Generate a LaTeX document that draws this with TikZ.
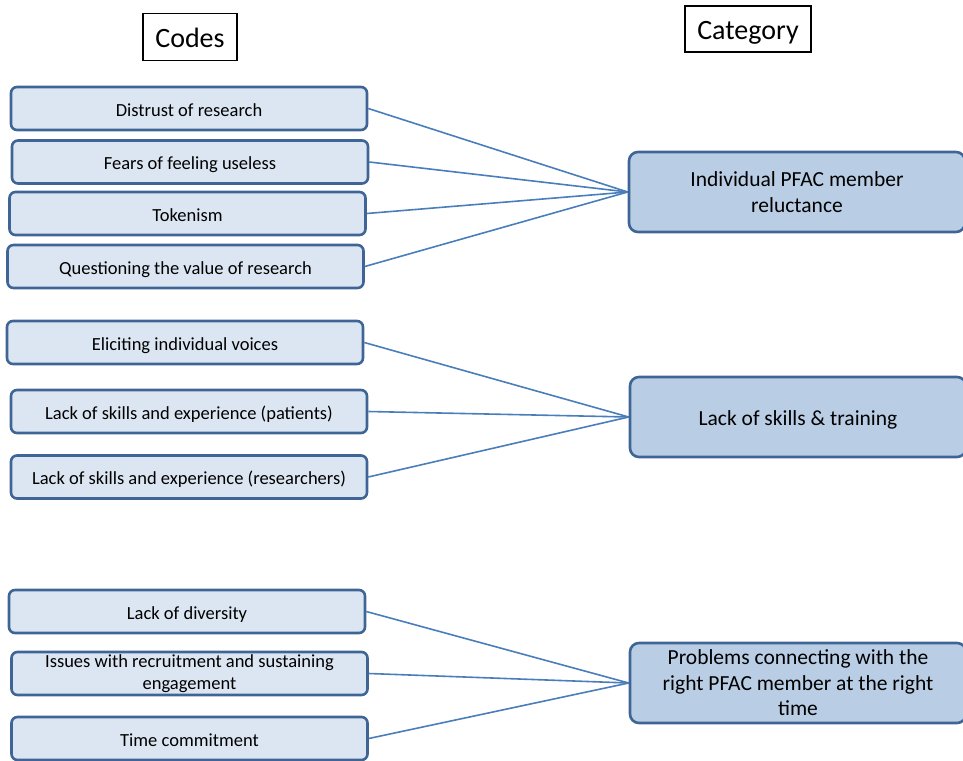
\documentclass[tikz,border=0pt]{standalone}
\usepackage{fontspec}
\setmainfont{Carlito}
\definecolor{codefill}{HTML}{DCE6F2}
\definecolor{catfill}{HTML}{B9CDE5}
\definecolor{boxline}{HTML}{3F6596}
\definecolor{conn}{HTML}{4A7EBB}
\tikzset{
  header/.style={draw=black, line width=1.8pt, fill=white, inner sep=0pt, text height=22pt, text depth=0pt, font=\fontsize{28}{32}\selectfont},
  codebox/.style={draw=boxline, line width=2.6pt, fill=codefill, rounded corners=6pt, minimum width=356pt, minimum height=43pt, inner sep=0pt, align=center, font=\fontsize{18.5}{22}\selectfont},
  oneline/.style={text height=15pt, text depth=0pt},
  catbox/.style={draw=boxline, line width=2.6pt, fill=catfill, rounded corners=9pt, minimum width=336pt, minimum height=80pt, inner sep=0pt, align=center, font=\fontsize{21.5}{25.5}\selectfont},
  link/.style={draw=conn, line width=1.6pt},
}
\begin{document}
\begin{tikzpicture}[x=1pt,y=1pt]
\useasboundingbox (0,0) rectangle (963,-760);
\node[header, minimum width=94pt, minimum height=47pt] (hcodes) at (190,-37) {Codes};
\node[header, minimum width=126pt, minimum height=46pt] (hcat) at (748,-29) {Category};

\node[codebox, oneline] (c1) at (189,-108.5) {Distrust of research};
\node[codebox, oneline] (c2) at (190,-162) {Fears of feeling useless};
\node[codebox, oneline] (c3) at (187.5,-213.5) {Tokenism};
\node[codebox, oneline] (c4) at (185.5,-266.5) {Questioning the value of research};
\node[codebox, oneline] (c5) at (185,-342.5) {Eliciting individual voices};
\node[codebox, oneline] (c6) at (189,-411.5) {Lack of skills and experience (patients)};
\node[codebox, oneline] (c7) at (189,-477) {Lack of skills and experience (researchers)};
\node[codebox, oneline] (c8) at (187,-611.5) {Lack of diversity};
\node[codebox] (c9) at (189.5,-673.5) {Issues with recruitment and sustaining\\engagement};
\node[codebox, oneline] (c10) at (189.5,-738.5) {Time commitment};

\node[catbox] (r1) at (797,-192) {Individual PFAC member\\reluctance};
\node[catbox, oneline, text height=17pt] (r2) at (798,-417) {Lack of skills \& training};
\node[catbox] (r3) at (798,-683) {Problems connecting with the\\right PFAC member at the right\\time};

\foreach \c in {c1,c2,c3,c4} \draw[link] (\c.east) -- (r1.west);
\foreach \c in {c5,c6,c7} \draw[link] (\c.east) -- (r2.west);
\foreach \c in {c8,c9,c10} \draw[link] (\c.east) -- (r3.west);
\end{tikzpicture}
\end{document}
